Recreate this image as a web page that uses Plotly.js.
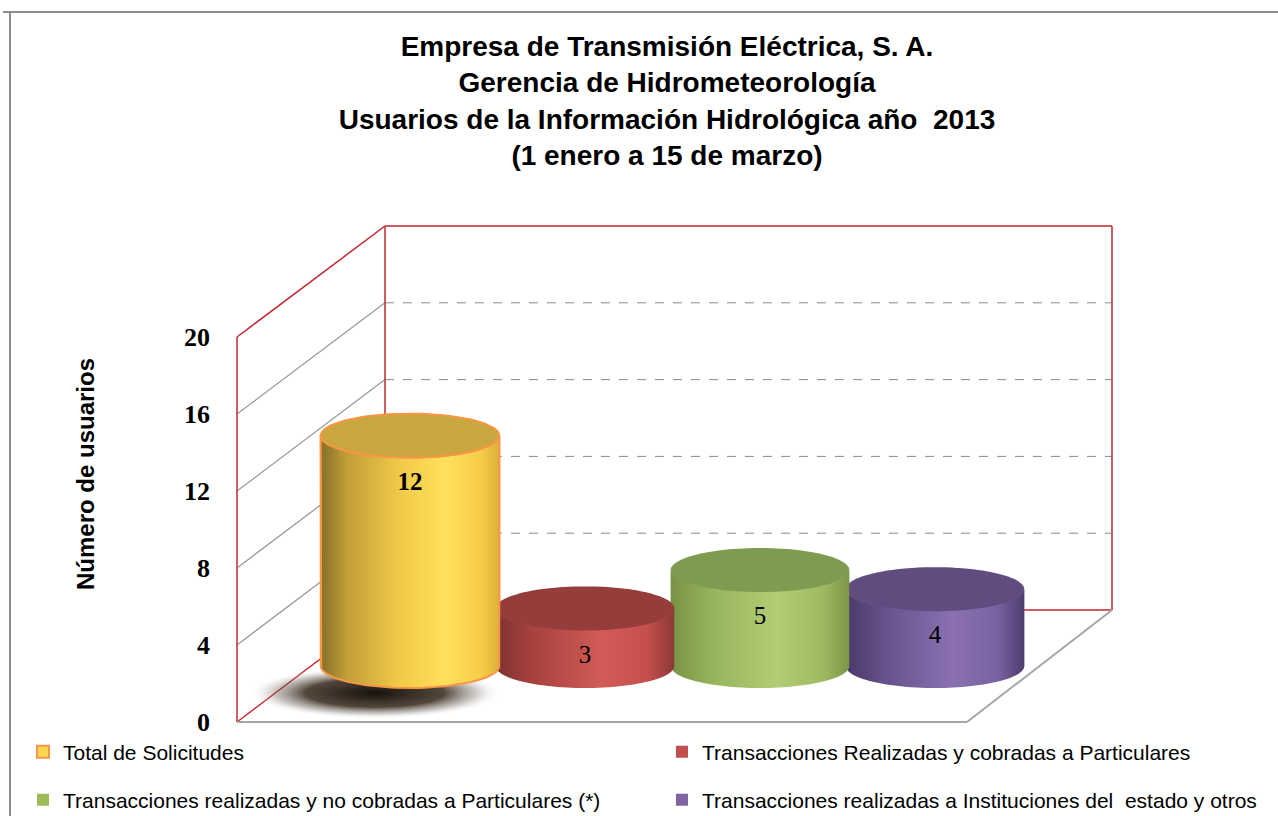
<!DOCTYPE html>
<html><head><meta charset="utf-8">
<script src="https://cdn.plot.ly/plotly-3.0.1.min.js"></script>
<style>html,body{margin:0;padding:0;background:#fff;}#chart{width:1278px;height:816px;}</style>
</head><body><div id="chart"></div>
<script>
// ---------------- data ----------------
const categories = [
  'Total de Solicitudes',
  'Transacciones Realizadas y cobradas a Particulares',
  'Transacciones realizadas y no cobradas a Particulares (*)',
  'Transacciones realizadas a Instituciones del\u00a0 estado y otros'
];
const values = [12, 3, 5, 4];
const valueLabels = ['<b>12</b>', '3', '5', '4'];
const yTickValues = [0, 4, 8, 12, 16, 20];
const yTickLabels = ['0', '4', '8', '12', '16', '20'];
const titleLines = [
  'Empresa de Transmisión Eléctrica, S. A.',
  'Gerencia de Hidrometeorología',
  'Usuarios de la Información Hidrológica año\u00a0 2013',
  '(1 enero a 15 de marzo)'
];
const yAxisTitle = 'Número de usuarios';

// ---------------- styles ----------------
const legendColors = ['#ffd54f', '#c0504d', '#9bbb59', '#8064a2'];
const bodyScales = [
  [[0,'#857028'],[0.15,'#c29f38'],[0.45,'#f2cb48'],[0.7,'#ffe05c'],[0.9,'#f6cc46'],[1,'#dcb038']],
  [[0,'#7c3331'],[0.2,'#a6413e'],[0.6,'#d25b57'],[0.85,'#c44f4c'],[1,'#8c3937']],
  [[0,'#789244'],[0.25,'#98b65e'],[0.6,'#b2cd74'],[0.85,'#9ebb61'],[1,'#7a9547']],
  [[0,'#4a396a'],[0.25,'#6a548f'],[0.6,'#8a70b0'],[0.85,'#7a62a0'],[1,'#4e3d71']]
];
const topColors = ['#c8a73e', '#953d3b', '#7f9a51', '#604c7e'];
const frameRed = '#c0282d';
const gridGray = '#9a9a9a';

// ---------------- geometry (px) ----------------
const W = 1278, H = 816;
const PL = 237, PR = 1112, PT = 226, PB = 722;
const FRONT_X = 237, BACK_X = 385, FLOOR_RIGHT_X = 967, BACK_RIGHT_X = 1112;
const FRONT_Y0 = 722, FRONT_PX = 19.25;
const BACK_Y0 = 610, BACK_PX = 19.2;
const MID_Y0 = 666, MID_PX = 19.2;
const X0_PX = 410, X_STEP = 175;
const RX = 0.51, RY = 22 / MID_PX;

const xRange = [(PL - X0_PX) / X_STEP, (PR - X0_PX) / X_STEP];
const yRange = [(FRONT_Y0 - PB) / FRONT_PX, (FRONT_Y0 - PT) / FRONT_PX];
const y2Range = [(MID_Y0 - PB) / MID_PX, (MID_Y0 - PT) / MID_PX];

const px = x => (x - PL) / (PR - PL);
const py = y => (PB - y) / (PB - PT);
const frontY = t => FRONT_Y0 - t * FRONT_PX;
const backY = t => BACK_Y0 - t * BACK_PX;

function seg(x0, y0, x1, y1, color, width, dash) {
  return {type: 'line', xref: 'paper', yref: 'paper', layer: 'below',
    x0: px(x0), y0: py(y0), x1: px(x1), y1: py(y1),
    line: {color: color, width: width, dash: dash || 'solid'}};
}

const shapes = [];
// outer border
shapes.push(seg(3, 12, W, 12, '#8c8c8c', 2));
shapes.push(seg(10, 12, 10, H, '#8c8c8c', 2));
// side wall & back wall grid
yTickValues.forEach(t => {
  if (t > 0 && t < 20) {
    shapes.push(seg(FRONT_X, frontY(t), BACK_X, backY(t), gridGray, 1.3));
    shapes.push(seg(BACK_X, backY(t), BACK_RIGHT_X, backY(t), '#8a8a8a', 1, 'dash'));
  }
});
const tMax = yTickValues[yTickValues.length - 1];
// red frame
shapes.push(seg(FRONT_X, frontY(0), FRONT_X, frontY(tMax), frameRed, 1.5));
shapes.push(seg(FRONT_X, frontY(tMax), BACK_X, backY(tMax), frameRed, 1.5));
shapes.push(seg(BACK_X, backY(tMax), BACK_RIGHT_X, backY(tMax), frameRed, 1.5));
shapes.push(seg(BACK_RIGHT_X, backY(tMax), BACK_RIGHT_X, backY(0), frameRed, 1.5));
shapes.push(seg(BACK_X, backY(tMax), BACK_X, backY(0), frameRed, 1.5));
shapes.push(seg(FRONT_X, frontY(0), BACK_X, backY(0), frameRed, 1.5));
shapes.push(seg(BACK_X, backY(0), BACK_RIGHT_X, backY(0), frameRed, 1.5));
// floor
shapes.push(seg(FRONT_X, frontY(0), FLOOR_RIGHT_X, frontY(0), '#a6a6a6', 2));
shapes.push(seg(FLOOR_RIGHT_X, frontY(0), BACK_RIGHT_X, backY(0), '#a6a6a6', 2));

// ---------------- helpers ----------------
function arc(cx, cy, rx, ry, a0, a1, n) {
  const xs = [], ys = [];
  for (let k = 0; k <= n; k++) {
    const a = a0 + (a1 - a0) * k / n;
    xs.push(cx + rx * Math.cos(a));
    ys.push(cy + ry * Math.sin(a));
  }
  return [xs, ys];
}
function bodyPath(cx, v) {
  const xs = [cx - RX], ys = [v];
  const b = arc(cx, 0, RX, RY, Math.PI, 2 * Math.PI, 60);
  xs.push(...b[0]); ys.push(...b[1]);
  const t = arc(cx, v, RX, RY, 2 * Math.PI, Math.PI, 60);
  xs.push(...t[0]); ys.push(...t[1]);
  xs.push(cx - RX); ys.push(v);
  return [xs, ys];
}

// ---------------- traces ----------------
const traces = [];
// front value axis (carries the tick labels only)
traces.push({type: 'scatter', x: [], y: [], xaxis: 'x', yaxis: 'y', showlegend: false, hoverinfo: 'skip'});

const legendIds = ['legend', 'legend2', 'legend3', 'legend4'];
categories.forEach((c, i) => {
  traces.push({
    type: 'bar', x: [i], y: [values[i]], yaxis: 'y2', width: 2 * RX,
    name: c, legend: legendIds[i],
    marker: {color: legendColors[i], line: i === 0 ? {color: '#f79646', width: 2} : {width: 0}},
    hoverinfo: 'skip'
  });
});

// shadow under first cylinder
const sh = arc(-0.2, -1.4, 0.72, 1.35, 0, 2 * Math.PI, 80);
traces.push({
  type: 'scatter', x: sh[0], y: sh[1], yaxis: 'y2', mode: 'none', fill: 'toself',
  fillgradient: {type: 'radial', colorscale: [[0, 'rgba(10,5,0,0.95)'], [0.55, 'rgba(40,25,10,0.8)'], [0.8, 'rgba(110,100,90,0.35)'], [1, 'rgba(255,255,255,0)']]},
  showlegend: false, hoverinfo: 'skip'
});

for (let i = categories.length - 1; i >= 0; i--) {
  const p = bodyPath(i, values[i]);
  traces.push({
    type: 'scatter', x: p[0], y: p[1], yaxis: 'y2', fill: 'toself',
    mode: i === 0 ? 'lines' : 'none',
    line: {color: '#f79646', width: 2},
    fillgradient: {type: 'horizontal', colorscale: bodyScales[i]},
    showlegend: false, hoverinfo: 'skip'
  });
  const e = arc(i, values[i], RX, RY, 0, 2 * Math.PI, 100);
  traces.push({
    type: 'scatter', x: e[0], y: e[1], yaxis: 'y2', fill: 'toself',
    mode: i === 0 ? 'lines' : 'none',
    line: {color: '#f79646', width: 2},
    fillcolor: topColors[i],
    showlegend: false, hoverinfo: 'skip'
  });
}

traces.push({
  type: 'scatter', mode: 'text', x: categories.map((c, i) => i), y: values.map(v => v - 2.5),
  yaxis: 'y2', text: valueLabels,
  textfont: {family: 'Liberation Serif, serif', size: 25, color: '#000'},
  showlegend: false, hoverinfo: 'skip'
});

const legendFont = {family: 'Liberation Sans, Arial, sans-serif', size: 21, color: '#000'};
function legendAt(xPx, yPx) {
  return {
    orientation: 'h', xref: 'container', yref: 'container',
    x: xPx / W, xanchor: 'left', y: 1 - yPx / H, yanchor: 'middle',
    font: legendFont, bgcolor: 'rgba(0,0,0,0)', borderwidth: 0,
    itemclick: false, itemdoubleclick: false
  };
}

const layout = {
  width: W, height: H, autosize: false,
  margin: {l: PL, r: W - PR, t: PT, b: H - PB, pad: 0},
  paper_bgcolor: '#fff', plot_bgcolor: 'rgba(0,0,0,0)',
  title: {
    text: titleLines.join('<br>'), xref: 'container', yref: 'container',
    x: 667 / W, xanchor: 'center', y: 1 - 56 / H, yanchor: 'top',
    font: {family: 'Liberation Sans, Arial, sans-serif', size: 28, weight: 'bold', color: '#000'}
  },
  barmode: 'overlay',
  xaxis: {range: xRange, visible: false, fixedrange: true},
  yaxis: {
    range: yRange, tickvals: yTickValues, ticktext: yTickLabels,
    showgrid: false, zeroline: false, showline: false, ticks: '',
    ticklabelstandoff: 26, fixedrange: true,
    tickfont: {family: 'Liberation Serif, serif', size: 26, weight: 'bold', color: '#000'},
    title: {text: yAxisTitle, standoff: 82,
      font: {family: 'Liberation Sans, Arial, sans-serif', size: 24, weight: 'bold', color: '#000'}}
  },
  yaxis2: {range: y2Range, overlaying: 'y', visible: false, fixedrange: true},
  legend: legendAt(23, 752),
  legend2: legendAt(662, 752),
  legend3: legendAt(23, 800),
  legend4: legendAt(662, 800),
  shapes: shapes,
  showlegend: true,
  hovermode: false
};

Plotly.newPlot('chart', traces, layout, {displayModeBar: false, staticPlot: true});
</script>
</body></html>
